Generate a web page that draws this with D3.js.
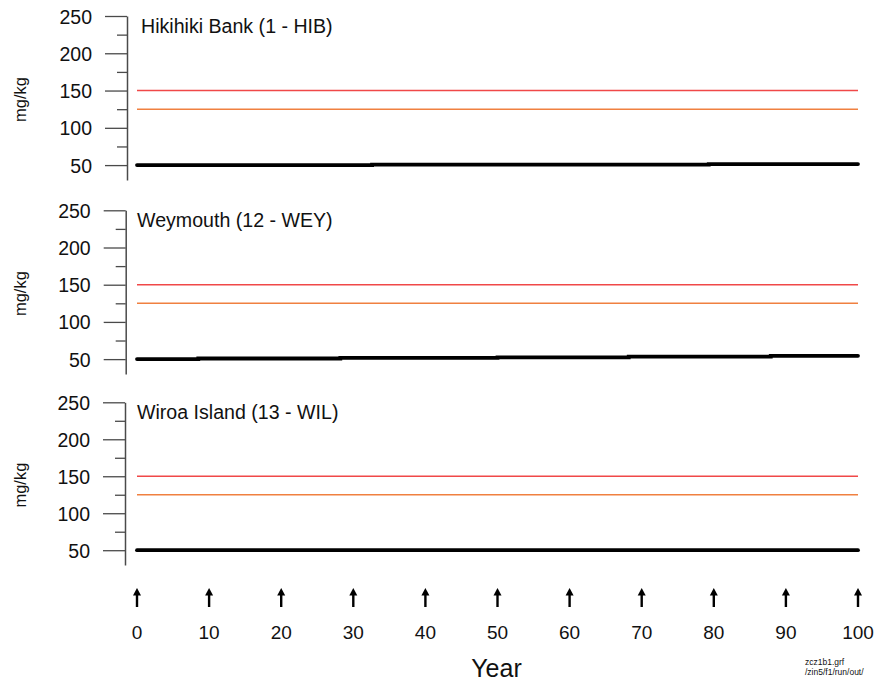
<!DOCTYPE html>
<html>
<head>
<meta charset="utf-8">
<script src="https://cdn.jsdelivr.net/npm/d3@7"></script>
<style>
  html, body { margin: 0; padding: 0; background: #fff; }
  svg { display: block; font-family: "Liberation Sans", Arial, sans-serif; }
</style>
</head>
<body>
<svg id="chart" width="881" height="682"></svg>
<script>
// ---- data ----
const stationNames = ["Hikihiki Bank (1 - HIB)", "Weymouth (12 - WEY)", "Wiroa Island (13 - WIL)"];
const hibYears  = [0, 32.6, 79.3, 100];
const hibValues = [50, 50.7, 51.4, 51.4];
const weyYears  = [0, 8.5, 28.2, 50, 68.2, 87.9, 100];
const weyValues = [50, 50.8, 51.8, 52.4, 53.4, 54.4, 54.4];
const wilYears  = [0, 100];
const wilValues = [50, 50];
const redLimit = 150;
const orangeLimit = 125;
const yMajorTicks = [50, 100, 150, 200, 250];
const yMinorTicks = [75, 125, 175, 225];
const xTicks = [0, 10, 20, 30, 40, 50, 60, 70, 80, 90, 100];
const yLabel = "mg/kg";
const xLabel = "Year";
const footnote = ["zcz1b1.grf", "/zin5/f1/run/out/"];

const seriesYears = [hibYears, weyYears, wilYears];
const seriesValues = [hibValues, weyValues, wilValues];

// ---- layout ----
const panelTop = [16, 210.3, 402.3];      // pixel of 250
const panelBottom = [180, 374, 565];      // pixel of 30
const axisX = [127, 125.7, 125];
const yDomain = [30, 250];

const svg = d3.select("#chart");
const x = d3.scaleLinear().domain([0, 100]).range([137, 858]);

const redColor = "#f04848";
const orangeColor = "#f08040";
const axisColor = "#4a4a4a";

stationNames.forEach((name, i) => {
  const y = d3.scaleLinear().domain(yDomain).range([panelBottom[i], panelTop[i]]);
  const g = svg.append("g");

  // minor ticks
  const minorAxis = d3.axisLeft(y).tickValues(yMinorTicks).tickSize(10).tickSizeOuter(0).tickFormat("");
  const gm = g.append("g").attr("transform", `translate(${axisX[i]},0)`).call(minorAxis);
  gm.select(".domain").remove();
  gm.selectAll("line").attr("stroke", axisColor).attr("stroke-width", 1.3);

  // major ticks + domain
  const majorAxis = d3.axisLeft(y).tickValues(yMajorTicks).tickSize(22).tickSizeOuter(0).tickPadding(13);
  const ga = g.append("g").attr("transform", `translate(${axisX[i]},0)`).call(majorAxis);
  ga.select(".domain").attr("stroke", axisColor).attr("stroke-width", 1.5);
  ga.selectAll("line").attr("stroke", axisColor).attr("stroke-width", 1.3);
  ga.selectAll("text").attr("font-size", 19.5).attr("fill", "#111")
    .attr("font-family", "'Liberation Sans', Arial, sans-serif").attr("dy", "0.36em");

  // y label
  const midY = (panelTop[i] + panelBottom[i]) / 2 + 1.5;
  g.append("text")
    .attr("transform", `translate(26,${midY}) rotate(-90)`)
    .attr("text-anchor", "middle")
    .attr("font-size", 16.5)
    .attr("fill", "#111")
    .text(yLabel);

  // title
  g.append("text")
    .attr("x", i === 0 ? 141 : 137)
    .attr("y", y(250) + 16.5)
    .attr("font-size", 19.6)
    .attr("fill", "#111")
    .text(name);

  // threshold lines
  g.append("line")
    .attr("x1", x(0)).attr("x2", x(100))
    .attr("y1", y(redLimit)).attr("y2", y(redLimit))
    .attr("stroke", redColor).attr("stroke-width", 1.5);
  g.append("line")
    .attr("x1", x(0)).attr("x2", x(100))
    .attr("y1", y(orangeLimit)).attr("y2", y(orangeLimit))
    .attr("stroke", orangeColor).attr("stroke-width", 1.5);

  // data line
  const pts = seriesYears[i].map((yr, k) => [yr, seriesValues[i][k]]);
  const line = d3.line().x(d => x(d[0])).y(d => y(d[1])).curve(d3.curveStepAfter);
  g.append("path")
    .attr("d", line(pts))
    .attr("fill", "none")
    .attr("stroke", "#000")
    .attr("stroke-width", 3.8)
    .attr("stroke-linecap", "round");
});

// x "axis": arrows + labels
const arrowTop = 588, arrowBottom = 607;
const xg = svg.append("g");
xTicks.forEach(t => {
  const cx = x(t);
  xg.append("line")
    .attr("x1", cx).attr("x2", cx)
    .attr("y1", arrowTop + 5).attr("y2", arrowBottom)
    .attr("stroke", "#000").attr("stroke-width", 2.4);
  xg.append("path")
    .attr("d", `M${cx},${arrowTop} L${cx - 4},${arrowTop + 7.5} L${cx + 4},${arrowTop + 7.5} Z`)
    .attr("fill", "#000");
  xg.append("text")
    .attr("x", cx).attr("y", 639)
    .attr("text-anchor", "middle")
    .attr("font-size", 19)
    .attr("fill", "#111")
    .text(t);
});

svg.append("text")
  .attr("x", (x(0) + x(100)) / 2 - 1)
  .attr("y", 677)
  .attr("text-anchor", "middle")
  .attr("font-size", 25)
  .attr("fill", "#111")
  .text(xLabel);

footnote.forEach((s, k) => {
  svg.append("text")
    .attr("x", 805).attr("y", 665 + k * 10)
    .attr("font-size", 8.5)
    .attr("fill", "#111")
    .text(s);
});
</script>
</body>
</html>
